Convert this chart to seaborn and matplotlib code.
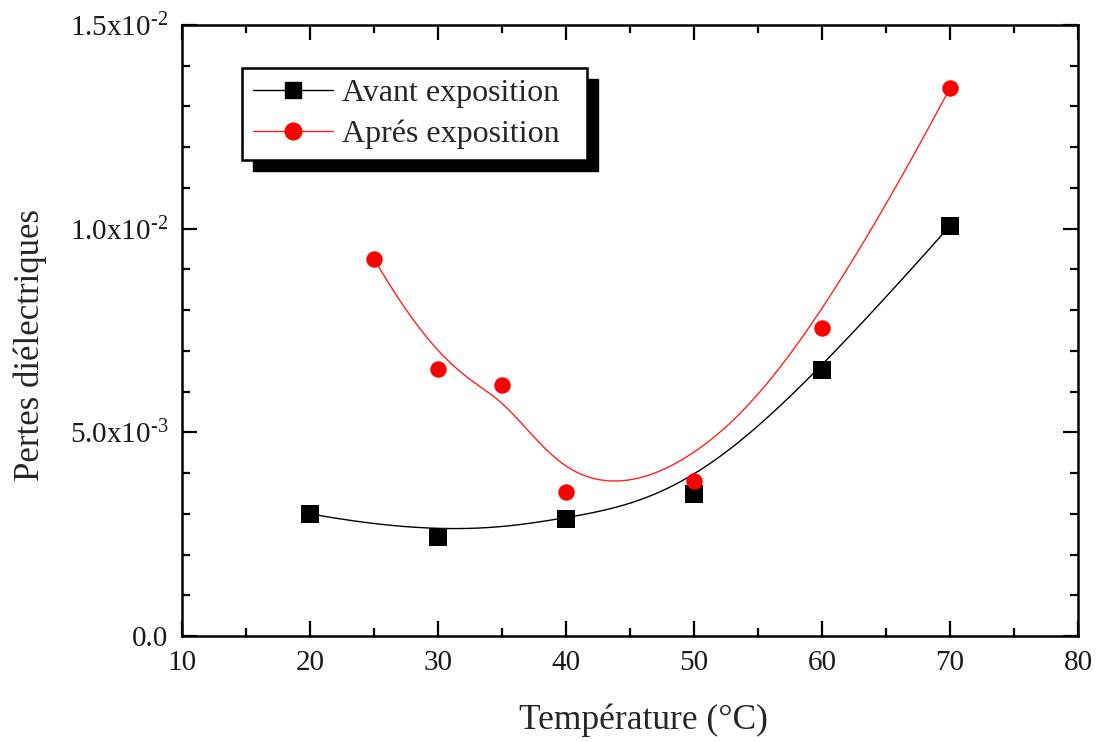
import numpy as np
import pandas as pd
import matplotlib
matplotlib.use("Agg")
import matplotlib.pyplot as plt
import matplotlib.transforms as mtransforms
from matplotlib.patches import Rectangle
from matplotlib.lines import Line2D
from matplotlib.ticker import MultipleLocator, FixedLocator, FixedFormatter
import seaborn as sns

# ---- data ----
temp_avant = [20, 30, 40, 50, 60, 70]
pertes_avant = [3.0e-3, 2.43e-3, 2.87e-3, 3.49e-3, 6.53e-3, 10.07e-3]
temp_apres = [25, 30, 35, 40, 50, 60, 70]
pertes_apres = [9.26e-3, 6.56e-3, 6.16e-3, 3.54e-3, 3.81e-3, 7.56e-3, 13.45e-3]
series_labels = ["Avant exposition", "Aprés exposition"]
yticks = [0.0, 5.0e-3, 1.0e-2, 1.5e-2]
ytick_labels = ["0.0", "5.0x10$^{\\mathregular{\u2010}\\mathregular{3}}$",
                "1.0x10$^{\\mathregular{\u2010}\\mathregular{2}}$",
                "1.5x10$^{\\mathregular{\u2010}\\mathregular{2}}$"]


def bspline(xs, ys, n=300, k=3):
    """Clamped uniform B-spline using the data points as control points."""
    P = np.column_stack([xs, ys]).astype(float)
    m = len(P)
    k = min(k, m - 1)
    inner = np.arange(1, m - k)
    knots = np.concatenate([np.zeros(k + 1), inner, np.full(k + 1, m - k)]).astype(float)
    ts = np.linspace(0, m - k, n)
    out = []
    for t in ts:
        if t >= knots[-1]:
            i = m - 1
        else:
            i = np.searchsorted(knots, t, side="right") - 1
        d = [P[j + i - k].copy() for j in range(k + 1)]
        for r in range(1, k + 1):
            for j in range(k, r - 1, -1):
                denom = knots[j + 1 + i - r] - knots[j + i - k]
                a = 0.0 if denom == 0 else (t - knots[j + i - k]) / denom
                d[j] = (1 - a) * d[j - 1] + a * d[j]
        out.append(d[k])
    out = np.array(out)
    return out[:, 0], out[:, 1]


sns.set_theme(style="ticks")
plt.rcParams["font.family"] = ["Liberation Serif", "DejaVu Serif"]
plt.rcParams["mathtext.fontset"] = "custom"
plt.rcParams["mathtext.rm"] = "Liberation Serif"
plt.rcParams["mathtext.it"] = "Liberation Serif:italic"
plt.rcParams["axes.unicode_minus"] = False

fig = plt.figure(figsize=(10.96, 7.42), dpi=100)
ax = fig.add_axes([182 / 1096, 1 - 636 / 742, 896 / 1096, 611 / 742])

# smooth curves
cx, cy = bspline(temp_avant, pertes_avant)
sns.lineplot(x=cx, y=cy, ax=ax, color="black", linewidth=1.0, sort=False, estimator=None)
rx, ry = bspline(temp_apres, pertes_apres)
sns.lineplot(x=rx, y=ry, ax=ax, color="#ff2020", linewidth=1.0, sort=False, estimator=None)

# markers
sns.scatterplot(x=temp_avant, y=pertes_avant, ax=ax, marker="s", s=150, color="black",
                edgecolor="black", linewidth=0, zorder=3)
sns.scatterplot(x=temp_apres, y=pertes_apres, ax=ax, marker="o", s=140, color="red",
                edgecolor="red", linewidth=0, zorder=3)

ax.set_xlim(10, 80)
ax.set_ylim(0, 0.015)
ax.xaxis.set_major_locator(MultipleLocator(10))
ax.xaxis.set_minor_locator(MultipleLocator(5))
ax.yaxis.set_major_locator(FixedLocator(yticks))
ax.yaxis.set_major_formatter(FixedFormatter(ytick_labels))
ax.yaxis.set_minor_locator(MultipleLocator(1e-3))

ax.tick_params(axis="both", which="both", direction="in", top=True, right=True,
               labeltop=False, labelright=False, colors="black")
ax.tick_params(axis="both", which="major", length=11, width=1.6, labelsize=21, pad=10)
ax.tick_params(axis="both", which="minor", length=6, width=1.6)
for side in ["left", "right", "top", "bottom"]:
    ax.spines[side].set_visible(True)
    ax.spines[side].set_linewidth(1.8)
    ax.spines[side].set_color("black")

for lab in ax.get_xticklabels() + ax.get_yticklabels():
    lab.set_color("#1a1a1a")

ax.set_xlabel("Température (°C)", fontsize=25.5)
ax.set_ylabel("Pertes diélectriques", fontsize=25)
ax.xaxis.set_label_coords((643 - 182) / 896, -(720 - 636) / 611)
ax.xaxis.label.set_verticalalignment("center")
ax.yaxis.set_label_coords(-(182 - 30) / 896, (636 - 345) / 611)
ax.yaxis.label.set_verticalalignment("center")

handles = [
    Line2D([], [], color="black", linewidth=1.0, marker="s", markersize=12,
           markerfacecolor="black", markeredgecolor="black"),
    Line2D([], [], color="#ff2020", linewidth=1.0, marker="o", markersize=12,
           markerfacecolor="red", markeredgecolor="red"),
]
leg = ax.legend(handles, [s + "\u2002" for s in series_labels], loc="upper left",
                bbox_to_anchor=((242 - 182) / 896, (636 - 68) / 611),
                borderaxespad=0, fontsize=23, frameon=True, fancybox=False,
                edgecolor="black", framealpha=1, handlelength=2.5, handletextpad=0.3,
                labelspacing=0.36, borderpad=0.34)
leg.get_frame().set_linewidth(1.8)
leg.set_zorder(6)

fig.canvas.draw()
bb = leg.get_frame().get_window_extent()
shadow = Rectangle((bb.x0 + 11, bb.y0 - 11), bb.width, bb.height,
                   transform=mtransforms.IdentityTransform(), facecolor="black",
                   edgecolor="black", clip_on=False, zorder=5.5)
ax.add_patch(shadow)

fig.savefig("out.png", dpi=100)
